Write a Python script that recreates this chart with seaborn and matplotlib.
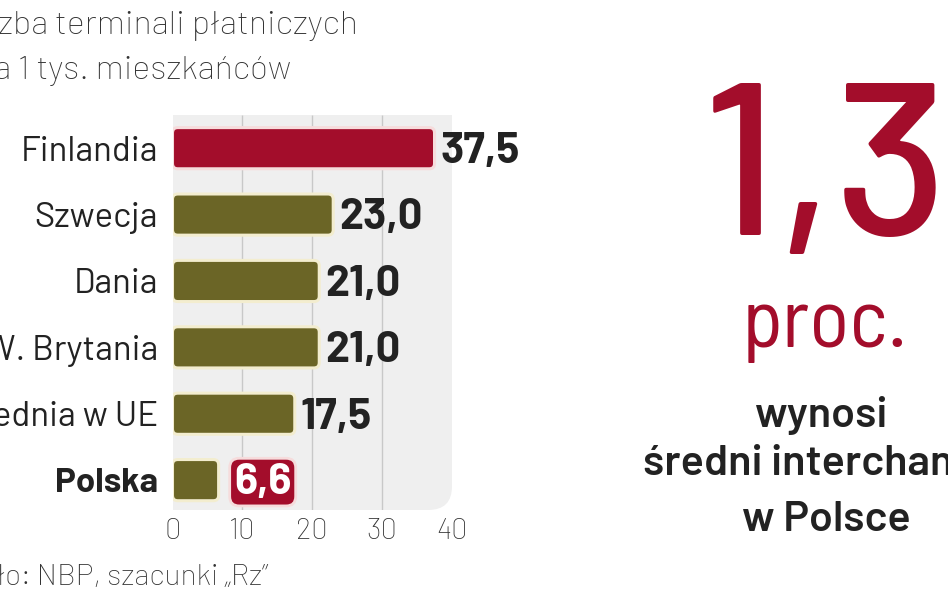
import matplotlib
matplotlib.use("Agg")
import matplotlib.pyplot as plt
import seaborn as sns
from matplotlib.patches import FancyBboxPatch

# --- dane ---
kraje = ["Finlandia", "Szwecja", "Dania", "W. Brytania", "Średnia w UE", "Polska"]
wartosci = [37.5, 23.0, 21.0, 21.0, 17.5, 6.6]
etykiety = ["37,5", "23,0", "21,0", "21,0", "17,5", "6,6"]
kolory_slupkow = ["#a30d2b", "#6b6526", "#6b6526", "#6b6526", "#6b6526", "#6b6526"]
xticks = [0, 10, 20, 30, 40]

tytul = ["Liczba terminali płatniczych", "na 1 tys. mieszkańców"]
zrodlo = "Źródło: NBP, szacunki „Rz”"
duza_liczba = "1,3"
opis = ["proc.", "wynosi", "średni interchange", "w Polsce"]

RED = "#a30d2b"
DARK = "#222222"
W, H = 948, 593
NARROW = ["Barlow Semi Condensed", "Roboto Condensed", "DejaVu Sans"]

sns.set_theme(style="white")
plt.rcParams["font.family"] = ["Barlow", "Barlow Semi Condensed", "Roboto", "DejaVu Sans"]

fig = plt.figure(figsize=(W / 100, H / 100), dpi=100)
ax = fig.add_axes([172.5 / W, (H - 510) / H, 279.5 / W, 395 / H])
ax.set_facecolor("none")

def px(x, y):
    return x / W, (H - y) / H

sns.barplot(x=wartosci, y=kraje, hue=kraje, palette=kolory_slupkow, orient="h",
            width=0.62, saturation=1, legend=False, ax=ax)
ax.set_xlim(xticks[0], xticks[-1])
ax.set_ylim(5.45, -0.5)

# tlo panelu z zaokraglonym prawym dolnym rogiem
panel = FancyBboxPatch((-0.3, 0), 1.3, 1.3, boxstyle="round,pad=0,rounding_size=0.085",
                       mutation_aspect=279.5 / 395, transform=ax.transAxes,
                       fc="#efefef", ec="none", zorder=0.1, clip_on=True)
ax.add_patch(panel)
panel.set_clip_path(ax.patch)
ax.vlines(xticks[1:-1], -0.5, 5.45, color="#c8c8c8", lw=1, zorder=0.2)

# zaokraglone slupki
m = (1 / 66.4) / (1 / 6.99)
for p in list(ax.patches):
    if p is panel:
        continue
    x0, y0, w, h = p.get_x(), p.get_y(), p.get_width(), p.get_height()
    fc = p.get_facecolor()
    ec = "#f6dcdc" if w > 30 else "#f3edcf"
    p.remove()
    ax.add_patch(FancyBboxPatch((x0, y0), w, h, boxstyle="round,pad=0,rounding_size=0.75",
                                mutation_aspect=m, fc=fc, ec=ec, lw=2.2, zorder=2))

# etykiety wartosci
for i, (v, t) in enumerate(zip(wartosci, etykiety)):
    if i == len(wartosci) - 1:
        ax.text(v + 2.2, i + 0.03, t, ha="left", va="center", fontsize=31, fontweight="bold",
                color="white", zorder=3,
                bbox=dict(boxstyle="round,pad=0.1,rounding_size=0.22", fc=RED, ec="#f6dcdc", lw=2))
    else:
        ax.text(v + 0.8, i + 0.05, t, ha="left", va="center", fontsize=31, fontweight="bold",
                color=DARK, clip_on=False, zorder=3)

ax.set_xticks(xticks)
ax.set_xticklabels([str(t) for t in xticks], fontsize=21, fontweight="light", color="#333333")
ax.tick_params(axis="x", length=0, pad=6)
ax.tick_params(axis="y", length=0, pad=10.5)
for lab in ax.get_yticklabels():
    lab.set_fontsize(25)
    lab.set_color(DARK)
ax.get_yticklabels()[-1].set_fontweight("bold")
ax.set_xlabel("")
ax.set_ylabel("")
sns.despine(ax=ax, left=True, bottom=True)

# tytul i zrodlo (obciete z lewej jak w oryginale)
fig.text(*px(358, 34), tytul[0], ha="right", va="baseline", fontsize=24.5, fontweight="light", color="#333333")
fig.text(*px(291, 79), tytul[1], ha="right", va="baseline", fontsize=24.5, fontweight="light", color="#333333")
fig.text(*px(268, 585), zrodlo, ha="right", va="baseline", fontsize=21.5, fontweight="light", color="#333333")

# prawa strona
fig.text(*px(702, 235), duza_liczba, ha="left", va="baseline", fontsize=156, fontweight="medium", color=RED)
fig.text(*px(825, 347), opis[0], ha="center", va="baseline", fontsize=60, fontweight="regular",
         color=RED, family=NARROW)
fig.text(*px(822, 427), opis[1], ha="center", va="baseline", fontsize=31, fontweight="semibold", color=DARK)
fig.text(*px(822, 475), opis[2], ha="center", va="baseline", fontsize=31, fontweight="semibold", color=DARK)
fig.text(*px(826, 531), opis[3], ha="center", va="baseline", fontsize=31, fontweight="semibold", color=DARK)

fig.savefig("out.png", dpi=100)
